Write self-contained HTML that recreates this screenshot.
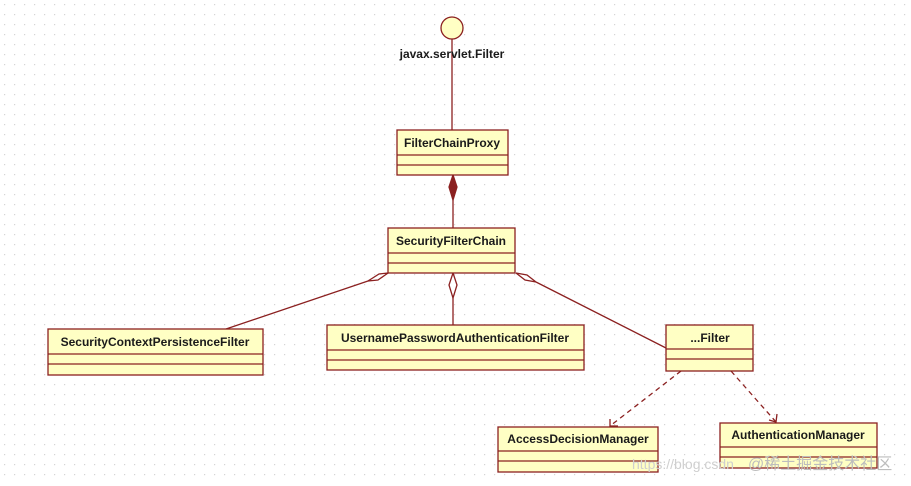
<!DOCTYPE html>
<html><head><meta charset="utf-8"><style>
html,body{margin:0;padding:0;background:#fff}
svg text{font-family:"Liberation Sans","DejaVu Sans",sans-serif;font-weight:bold;font-size:12px;fill:#1a1a1a}
</style></head><body>
<svg width="911" height="481" viewBox="0 0 911 481" xmlns="http://www.w3.org/2000/svg">
<defs>
<pattern id="dots" width="10" height="10" patternUnits="userSpaceOnUse">
<rect x="4" y="4" width="1.2" height="1.2" fill="#d4d4d4"/>
</pattern>
</defs>
<rect width="911" height="481" fill="#fff"/>
<rect width="911" height="481" fill="url(#dots)"/>
<g stroke="#8b2020" stroke-width="1.3" fill="none">
<!-- interface -->
<line x1="452" y1="39" x2="452" y2="130"/>
<circle cx="452" cy="28" r="11" fill="#ffffc4"/>
<!-- composition -->
<line x1="453" y1="200" x2="453" y2="228"/>
<polygon points="453,175 457,187 453,200 449,187" fill="#8b2020"/>
<!-- aggregations -->
<polygon points="388,273 378,278 368,281 378,276" fill="#fff"/>
<polygon points="388,273 378,280 368,281 379,274" fill="#fff"/>
<line x1="368" y1="281" x2="226" y2="329"/>
<polygon points="453,273 457,285 453,298 449,285" fill="#fff"/>
<line x1="453" y1="298" x2="453" y2="325"/>
<polygon points="516,273 527,275 536,282 525,280" fill="#fff"/>
<line x1="536" y1="282" x2="666" y2="348"/>
<!-- dependencies -->
<g stroke-dasharray="5,4">
<line x1="681" y1="371" x2="610" y2="426"/>
<line x1="731" y1="371" x2="776" y2="422"/>
</g>
<polyline points="610,419 610,426 618,426"/>
<polyline points="769,420 776,422 777,414"/>
</g>
<text x="452" y="58" text-anchor="middle">javax.servlet.Filter</text>
<g stroke="#8b2020" stroke-width="1.3" fill="#ffffc4">
<rect x="397" y="130" width="111" height="45"/>
<rect x="388" y="228" width="127" height="45"/>
<rect x="48" y="329" width="215" height="46"/>
<rect x="327" y="325" width="257" height="45"/>
<rect x="666" y="325" width="87" height="46"/>
<rect x="498" y="427" width="160" height="45"/>
<rect x="720" y="423" width="157" height="45"/>
</g>
<g stroke="#8b2020" stroke-width="1.2">
<line x1="397" y1="155" x2="508" y2="155"/><line x1="397" y1="165" x2="508" y2="165"/>
<line x1="388" y1="253" x2="515" y2="253"/><line x1="388" y1="263" x2="515" y2="263"/>
<line x1="48" y1="354" x2="263" y2="354"/><line x1="48" y1="364" x2="263" y2="364"/>
<line x1="327" y1="350" x2="584" y2="350"/><line x1="327" y1="360" x2="584" y2="360"/>
<line x1="666" y1="349" x2="753" y2="349"/><line x1="666" y1="359" x2="753" y2="359"/>
<line x1="498" y1="451" x2="658" y2="451"/><line x1="498" y1="461" x2="658" y2="461"/>
<line x1="720" y1="447" x2="877" y2="447"/><line x1="720" y1="457" x2="877" y2="457"/>
</g>
<text x="452" y="147" text-anchor="middle">FilterChainProxy</text>
<text x="451" y="245" text-anchor="middle">SecurityFilterChain</text>
<text x="155" y="346" text-anchor="middle">SecurityContextPersistenceFilter</text>
<text x="455" y="342" text-anchor="middle">UsernamePasswordAuthenticationFilter</text>
<text x="710" y="342" text-anchor="middle">...Filter</text>
<text x="578" y="443" text-anchor="middle">AccessDecisionManager</text>
<text x="798" y="439" text-anchor="middle">AuthenticationManager</text>
<text x="632" y="469" style="font-weight:normal;fill:#cfcfcf;font-size:14px">https://blog.csdn</text>
<text x="748" y="469" style="font-weight:normal;fill:#bdbdbd;font-size:16px;font-family:'Liberation Sans','Noto Sans CJK SC',sans-serif">@稀土掘金技术社区</text>
</svg>
</body></html>
